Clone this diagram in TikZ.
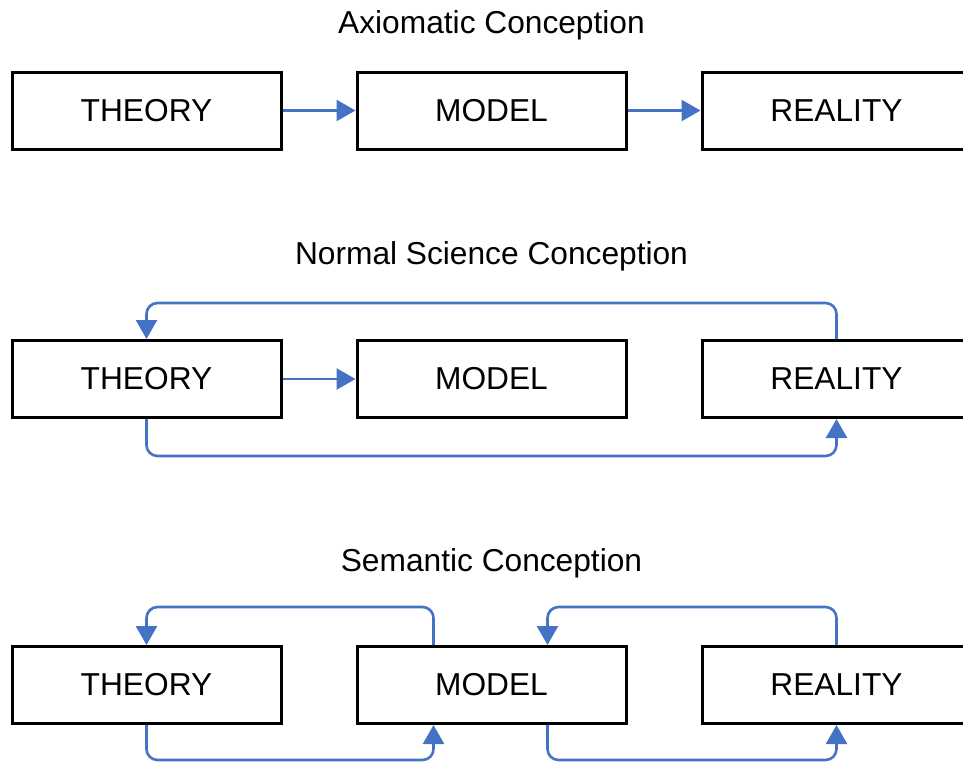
\documentclass[tikz,border=0pt]{standalone}
\usepackage{fontspec}
\setmainfont{Liberation Sans}
\usetikzlibrary{arrows.meta}
\definecolor{conblue}{RGB}{68,114,196}
\tikzset{
  box/.style={draw=black, line width=3pt, minimum width=269pt, minimum height=77pt, inner sep=0pt, font=\fontsize{31.7}{36}\selectfont},
  title/.style={font=\fontsize{31.7}{36}\selectfont, inner sep=0pt},
  conn/.style={draw=conblue, line width=2.6pt, rounded corners=11pt, -{Triangle[length=19pt,width=21pt]}},
}
\begin{document}
\begin{tikzpicture}[x=1pt,y=-1pt]
\useasboundingbox (0,0) rectangle (963,761);
\clip (0,0) rectangle (963,761);
% Row 1
\node[title] (t1) at (491.5,25) {Axiomatic Conception};
\node[box] (th1) at (146.5,110.5) {THEORY};
\node[box] (mo1) at (491.5,110.5) {MODEL};
\node[box] (re1) at (836.5,110.5) {REALITY};
\draw[conn] (th1.east) -- (mo1.west);
\draw[conn] (mo1.east) -- (re1.west);
% Row 2
\node[title] (t2) at (491.5,256) {Normal Science Conception};
\node[box] (th2) at (146.5,379) {THEORY};
\node[box] (mo2) at (491.5,379) {MODEL};
\node[box] (re2) at (836.5,379) {REALITY};
\draw[conn] (th2.east) -- (mo2.west);
\draw[conn] (re2.north) -- ++(0,-36) -| (th2.north);
\draw[conn] (th2.south) -- ++(0,37) -| (re2.south);
% Row 3
\node[title] (t3) at (491.5,563) {Semantic Conception};
\node[box] (th3) at (146.5,685) {THEORY};
\node[box] (mo3) at (491.5,685) {MODEL};
\node[box] (re3) at (836.5,685) {REALITY};
\coordinate (moA) at ([xshift=-58pt]mo3.north);
\coordinate (moB) at ([xshift=-58pt]mo3.south);
\coordinate (moC) at ([xshift=56pt]mo3.north);
\coordinate (moD) at ([xshift=56pt]mo3.south);
\draw[conn] (moA) -- ++(0,-38) -| (th3.north);
\draw[conn] (th3.south) -- ++(0,35) -| (moB);
\draw[conn] (re3.north) -- ++(0,-38) -| (moC);
\draw[conn] (moD) -- ++(0,35) -| (re3.south);
\end{tikzpicture}
\end{document}
